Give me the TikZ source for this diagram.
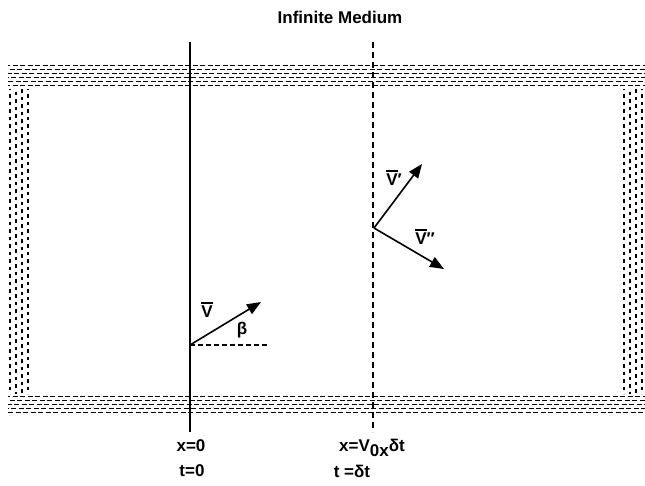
\documentclass[tikz,border=0pt]{standalone}
\usepackage{fontspec}
\setmainfont{Liberation Sans}
\usetikzlibrary{arrows.meta,positioning}
\tikzset{
    lbl/.style={
           font=\fontsize{17}{19}\selectfont\bfseries,
           inner sep=1pt,
           },
    vec/.style={-{Triangle[length=14pt,width=11pt]}, line width=1.6pt},
    band/.style={dash pattern=on 5pt off 2.5pt, line width=1.5pt},
    vband/.style={dash pattern=on 3.5pt off 4pt, line width=1.1pt},
}
\newcommand{\vb}[1]{\vbox{\hrule height 1.4pt\kern 2.5pt\hbox{V}}#1}
\begin{document}
\begin{tikzpicture}[x=1pt,y=-1pt]
      \useasboundingbox (0,0) rectangle (645,485);
      % hatched bands of the medium
      \foreach \y [count=\i] in {65.5,69.5,73.5,77.5,81.5,85.5} {
         \draw[band, dash phase=3*\i pt] (8,\y) -- (645,\y);
      }
      \foreach \y [count=\i] in {396.5,400.5,404.5,408.5,412.5} {
         \draw[band, dash phase=3*\i pt] (8,\y) -- (645,\y);
      }
      \foreach \x [count=\i] in {10,16,22,28} {
         \draw[vband, dash phase=2.5*\i pt] (\x,89) -- (\x,394);
      }
      \foreach \x [count=\i] in {624,630,636,642} {
         \draw[vband, dash phase=2.5*\i pt] (\x,89) -- (\x,394);
      }
      \node[lbl] (title) at (340,17) {Infinite Medium};
      % the two planes
      \coordinate (Atop) at (190,42);
      \coordinate (Abot) at (190,432);
      \coordinate (Btop) at (373,42);
      \coordinate (Bbot) at (373,432);
      \draw[line width=2pt] (Atop) -- (Abot);
      \draw[line width=2.4pt, dash pattern=on 6pt off 4pt] (Btop) -- (Bbot);
      % velocities
      \coordinate (O1) at (190,345);
      \coordinate (V)  at (261,302);
      \coordinate (H)  at (268,345);
      \coordinate (O2) at (374,228);
      \coordinate (V1) at (422,164);
      \coordinate (V2) at (444,269);
      \draw[vec] (O1) -- (V);
      \draw[line width=1.4pt, dash pattern=on 5pt off 3pt] (O1) -- (H);
      \draw[vec] (O2) -- (V1);
      \draw[vec] (O2) -- (V2);
      \node[lbl] (vlab)  at (207,310) {\vb{}};
      \node[lbl] (beta)  at (242,330) {β};
      \node[lbl] (v1lab) at (394,178) {\vb{′}};
      \node[lbl] (v2lab) at (425,237) {\vb{″}};
      % labels
      \node[lbl] (x0) at (191,446) {x=0};
      \node[lbl] (t0) at (192,471) {t=0};
      \node[lbl] (xd) at (372,448) {x=V\raisebox{-5pt}{0x}δt};
      \node[lbl] (td) at (352,471) {t =δt};
\end{tikzpicture}
\end{document}
